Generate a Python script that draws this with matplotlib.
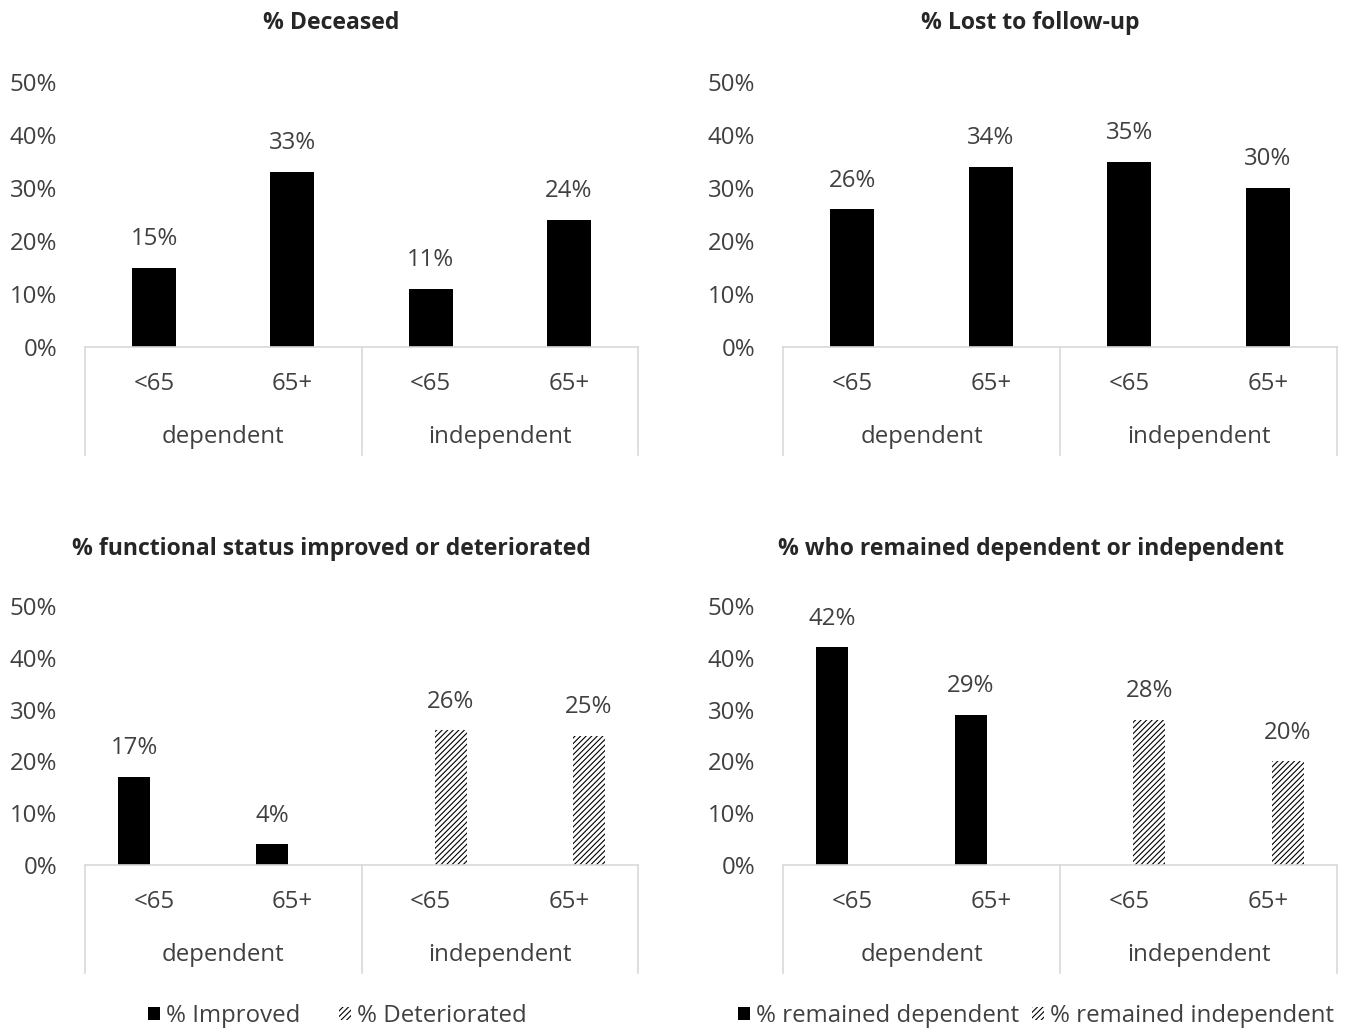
import matplotlib
matplotlib.use('Agg')
from matplotlib import pyplot as plt
from matplotlib.patches import Patch
from matplotlib.ticker import PercentFormatter

# data (percent)
ages = ['<65', '65+', '<65', '65+']
groups = ['dependent', 'independent']

deceased = [15, 33, 11, 24]
lost = [26, 34, 35, 30]

improved = [17, 4, 0, 0]
deteriorated = [0, 0, 26, 25]

remained_dep = [42, 29, 0, 0]
remained_indep = [0, 0, 28, 20]

plt.rcParams['font.family'] = ['Open Sans', 'DejaVu Sans']
plt.rcParams['hatch.linewidth'] = 0.8
TXT = '#404040'
FS = 17.3
TFS = 16.6
W, H = 1348, 1034

fig = plt.figure(figsize=(W / 100, H / 100), dpi=100)


def make_axes(left, right, base, top):
	return fig.add_axes([left / W, (H - base) / H, (right - left) / W, (base - top) / H])


def style(ax, title, title_x, title_y, base_px, top_px):
	h = base_px - top_px
	ax.set_xlim(-0.5, 3.5)
	ax.set_ylim(0, 50)
	ax.set_yticks(range(0, 51, 10))
	ax.yaxis.set_major_formatter(PercentFormatter(decimals=0))
	ax.tick_params(axis='y', length=0, pad=20, labelsize=FS, labelcolor=TXT)
	ax.set_xticks([])
	for s in ['top', 'right', 'left']:
		ax.spines[s].set_visible(False)
	ax.spines['bottom'].set_color('#d9d9d9')
	ax.spines['bottom'].set_linewidth(1.2)
	fig.text(title_x / W, 1 - title_y / H, title, ha='center', va='center',
			 fontsize=TFS, fontweight='bold', color='#262626')
	tr = ax.get_xaxis_transform()
	for i, a in enumerate(ages):
		ax.text(i, -37 / h, a, transform=tr, ha='center', va='center', fontsize=FS, color=TXT)
	for g, name in enumerate(groups):
		ax.text(2 * g + 0.5, -90 / h, name, transform=tr, ha='center', va='center', fontsize=FS, color=TXT)
	for xs in [-0.5, 1.5, 3.5]:
		ax.plot([xs, xs], [0, -108 / h], transform=tr, color='#d9d9d9', lw=1.2, clip_on=False)


def label_bars(ax, bars, vals):
	for b, v in zip(bars, vals):
		if v == 0:
			continue
		ax.annotate(f'{v}%', (b.get_x() + b.get_width() / 2, v), xytext=(0, 12),
					textcoords='offset points', ha='center', va='bottom', fontsize=FS, color=TXT)


x = list(range(4))
off = 0.145

# % Deceased
ax1 = make_axes(85, 638, 347, 82)
b = ax1.bar(x, deceased, width=0.32, color='black')
label_bars(ax1, b, deceased)
style(ax1, '% Deceased', 331, 23, 347, 82)

# % Lost to follow-up
ax2 = make_axes(783, 1337, 347, 82)
b = ax2.bar(x, lost, width=0.32, color='black')
label_bars(ax2, b, lost)
style(ax2, '% Lost to follow-up', 1030, 23, 347, 82)

# % functional status improved or deteriorated
ax3 = make_axes(85, 638, 865, 606)
b1 = ax3.bar([i - off for i in x], improved, width=0.23, color='black')
b2 = ax3.bar([i + off for i in x], deteriorated, width=0.23, color='white',
			 edgecolor='black', hatch='//////', linewidth=0)
label_bars(ax3, b1, improved)
label_bars(ax3, b2, deteriorated)
style(ax3, '% functional status improved or deteriorated', 331, 549, 865, 606)

# % who remained dependent or independent
ax4 = make_axes(783, 1337, 865, 606)
b1 = ax4.bar([i - off for i in x], remained_dep, width=0.23, color='black')
b2 = ax4.bar([i + off for i in x], remained_indep, width=0.23, color='white',
			 edgecolor='black', hatch='//////', linewidth=0)
label_bars(ax4, b1, remained_dep)
label_bars(ax4, b2, remained_indep)
style(ax4, '% who remained dependent or independent', 1031, 549, 865, 606)

h_solid = Patch(facecolor='black')
h_hatch = Patch(facecolor='white', edgecolor='black', hatch='//////', linewidth=0)

fig.legend([h_solid, h_hatch], ['% Improved', '% Deteriorated'], ncol=2, frameon=False,
		   loc='center', bbox_to_anchor=(337 / W, 1 - 1016 / H), fontsize=FS, labelcolor=TXT,
		   handlelength=0.5, handleheight=0.5, handletextpad=0.25, columnspacing=1.6)
fig.legend([h_solid, h_hatch], ['% remained dependent', '% remained independent'], ncol=2,
		   frameon=False, loc='center', bbox_to_anchor=(1036 / W, 1 - 1016 / H), fontsize=FS,
		   labelcolor=TXT, handlelength=0.5, handleheight=0.5, handletextpad=0.25, columnspacing=0.5)

fig.savefig('out.png', dpi=100)
